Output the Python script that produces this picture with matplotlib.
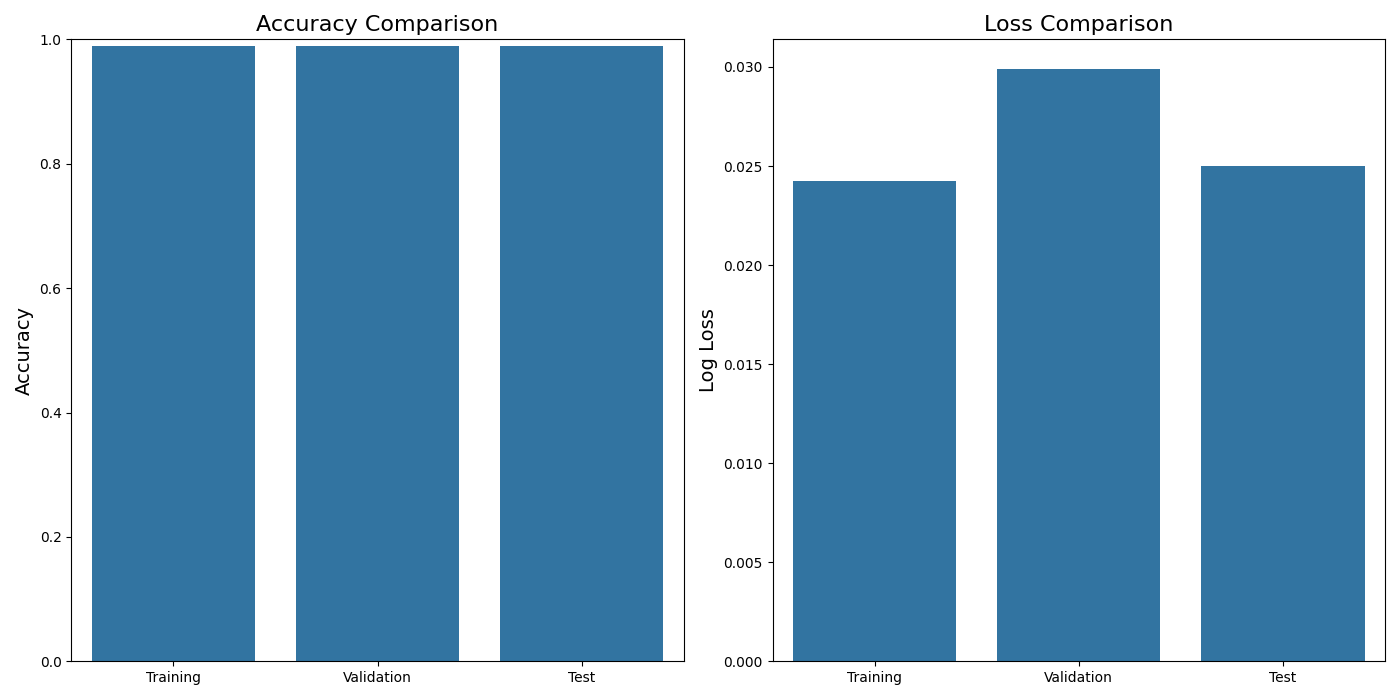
import matplotlib
matplotlib.use("Agg")
import matplotlib.pyplot as plt
import seaborn as sns

splits = ["Training", "Validation", "Test"]
accuracy = [0.990, 0.9885, 0.9885]
log_loss = [0.02424, 0.02990, 0.02500]

fig, axes = plt.subplots(1, 2, figsize=(14, 7))

sns.barplot(x=splits, y=accuracy, ax=axes[0])
axes[0].set_title("Accuracy Comparison", fontsize=16)
axes[0].set_ylabel("Accuracy", fontsize=14)
axes[0].set_ylim(0, 1)

sns.barplot(x=splits, y=log_loss, ax=axes[1])
axes[1].set_title("Loss Comparison", fontsize=16)
axes[1].set_ylabel("Log Loss", fontsize=14)

plt.tight_layout()
plt.savefig("out.png", dpi=100)
